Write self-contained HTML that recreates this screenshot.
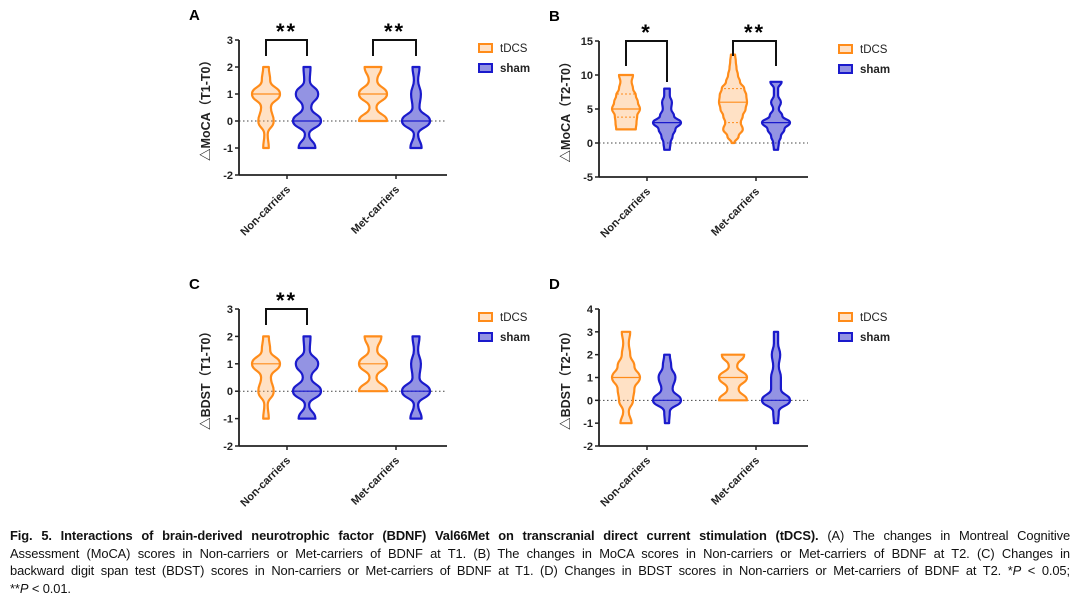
<!DOCTYPE html>
<html><head><meta charset="utf-8">
<style>
body{margin:0;background:#fff;width:1080px;height:596px;overflow:hidden;font-family:"Liberation Sans","Noto Sans CJK SC",sans-serif}
svg{position:absolute;left:0;top:0}
.cap{position:absolute;left:10px;width:1060px;font-size:12.9px;letter-spacing:-0.1px;color:#111;text-align:justify;text-align-last:justify;white-space:nowrap;line-height:15px}
.cap.last{text-align-last:left}
</style></head><body>
<svg id="fig" width="1080" height="525"></svg>
<div class="cap" style="top:528px"><b>Fig. 5. Interactions of brain-derived neurotrophic factor (BDNF) Val66Met on transcranial direct current stimulation (tDCS).</b> (A) The changes in Montreal Cognitive</div>
<div class="cap" style="top:545.5px">Assessment (MoCA) scores in Non-carriers or Met-carriers of BDNF at T1. (B) The changes in MoCA scores in Non-carriers or Met-carriers of BDNF at T2. (C) Changes in</div>
<div class="cap" style="top:563px">backward digit span test (BDST) scores in Non-carriers or Met-carriers of BDNF at T1. (D) Changes in BDST scores in Non-carriers or Met-carriers of BDNF at T2. *<i>P</i> &lt; 0.05;</div>
<div class="cap last" style="top:580.5px">**<i>P</i> &lt; 0.01.</div>
<script>
const categories=["Non-carriers","Met-carriers"];
const series=["tDCS","sham"];
// panel A
const aVals=[[-1,-0.5,0,0.5,1,1.5,2],[-1,-0.5,0,0.5,1,1.5,2],[0,0.5,1,1.5,2],[-1,-0.5,0,0.5,1,1.5,2]];
const aDens=[[0.2,0.12,0.55,0.35,1,0.3,0.2],[0.6,0.15,1,0.3,0.8,0.2,0.25],[1,0.25,1,0.3,0.6],[0.4,0.15,1,0.25,0.35,0.15,0.25]];
const aMed=[1,0,1,0];
const aTicks=[-2,-1,0,1,2,3];
// panel B
const bVals=[[2,3,4,5,6,7,8,9,10],[-1,0,1,2,3,4,5,6,7,8],[0,1,2,3,4,5,6,7,8,9,10,11,12,13],[-1,0,1,2,3,4,5,6,7,8,9]];
const bDens=[[0.7,0.75,0.8,1,0.85,0.7,0.5,0.4,0.5],[0.2,0.25,0.4,0.6,1,0.5,0.3,0.35,0.2,0.2],[0.1,0.4,0.7,0.55,0.7,0.9,1,0.95,0.8,0.5,0.35,0.25,0.2,0.15],[0.15,0.2,0.35,0.6,1,0.45,0.2,0.35,0.15,0.15,0.4]];
const bMed=[5,3,6,3];
const bQ=[[3.8,7.2],null,[3,8],null];
const bTicks=[-5,0,5,10,15];
// panel C
const cVals=aVals;
const cDens=[[0.2,0.12,0.55,0.35,1,0.3,0.2],[0.6,0.15,1,0.3,0.8,0.2,0.25],[1,0.25,1,0.3,0.6],[0.4,0.15,1,0.25,0.35,0.15,0.25]];
const cMed=[1,0,1,0];
// panel D
const dVals=[[-1,-0.5,0,0.5,1,1.5,2,2.5,3],[-1,-0.5,0,0.5,1,1.5,2],[0,0.5,1,1.5,2],[-1,-0.5,0,0.5,1,1.5,2,2.5,3]];
const dDens=[[0.4,0.2,0.5,0.6,1,0.6,0.3,0.2,0.3],[0.15,0.2,1,0.4,0.6,0.3,0.2],[1,0.4,1,0.3,0.8],[0.15,0.2,1,0.35,0.35,0.2,0.3,0.15,0.15]];
const dMed=[1,0,1,0];
const dTicks=[-2,-1,0,1,2,3,4];

const NS="http://www.w3.org/2000/svg";
const svg=document.getElementById('fig');
const ORANGE="#ff8c1a",BLUE="#1a1acc";
function el(t,a,p){const e=document.createElementNS(NS,t);for(const k in a)e.setAttribute(k,a[k]);(p||svg).appendChild(e);return e;}
function panel(P){
  const g=el('g',{});
  
  
  const min=P.ticks[0],max=P.ticks[P.ticks.length-1];
  const y=v=>P.yBot-(v-min)/(max-min)*(P.yBot-P.yTop);
  const xs=[P.ax+27,P.ax+68,P.ax+134,P.ax+177];
  const t=el('text',{x:P.ax-50,y:P.yTop-20,'font-size':15,'font-weight':'bold'},g);t.textContent=P.letter;
  
  const z=el('line',{x1:P.ax,x2:P.xEnd,y1:y(0),y2:y(0),stroke:'#444','stroke-width':1,'stroke-dasharray':'1.5,2.5'},g);
  
  for(let i=0;i<4;i++){
    const vals=P.vals[i],dens=P.dens[i],col=i%2?BLUE:ORANGE,fill=i%2?'rgba(40,40,200,0.5)':'rgba(255,170,90,0.35)';
    const cx=xs[i],W=14;
    const R=vals.map((v,k)=>[cx+dens[k]*W,y(v)]),L=vals.map((v,k)=>[cx-dens[k]*W,y(v)]).reverse();
    const pts=R.concat(L);
    let d=`M${pts[0][0]},${pts[0][1]}`;
    for(let k=1;k<pts.length;k++){
      const p0=pts[k-1],p1=pts[k];
      if(k===R.length){d+=` L${p1[0]},${p1[1]}`;continue;}
      const my=(p0[1]+p1[1])/2;
      d+=` C${p0[0]},${my} ${p1[0]},${my} ${p1[0]},${p1[1]}`;
    }
    d+='Z';
    const v=el('path',{d,fill,stroke:col,'stroke-width':2.2,'stroke-linejoin':'round'},g);
    
    
    const mv=P.med[i];let k=0;while(k<vals.length-1&&vals[k+1]<=mv)k++;
    let w=dens[k];if(k<vals.length-1&&vals[k]!==mv){const f=(mv-vals[k])/(vals[k+1]-vals[k]);w=dens[k]+(dens[k+1]-dens[k])*f;}
    const m=el('line',{x1:cx-w*W,x2:cx+w*W,y1:y(mv),y2:y(mv),stroke:col,'stroke-width':1.2},g);
    
    if(P.q&&P.q[i])P.q[i].forEach(q=>{const l=el('line',{x1:cx-9,x2:cx+9,y1:y(q),y2:y(q),stroke:col,'stroke-width':1,'stroke-dasharray':'2,2'},g);
      });
  }
  const ya=el('line',{x1:P.ax,x2:P.ax,y1:P.yTop,y2:P.yBot,stroke:'#222','stroke-width':1.8},g);
  
  const xa=el('line',{x1:P.ax,x2:P.xEnd,y1:P.yBot,y2:P.yBot,stroke:'#222','stroke-width':1.8},g);
  
  P.ticks.forEach(tv=>{
    el('line',{x1:P.ax-4,x2:P.ax,y1:y(tv),y2:y(tv),stroke:'#222','stroke-width':1.5},g);
    const tt=el('text',{x:P.ax-6,y:y(tv)+4,'font-size':11,'font-weight':'bold','text-anchor':'end',fill:'#222'},g);
    tt.textContent=tv;
    
  });
  [P.ax+48,P.ax+157].forEach((cx,j)=>{
    el('line',{x1:cx,x2:cx,y1:P.yBot,y2:P.yBot+4,stroke:'#222','stroke-width':1.5},g);
    const tt=el('text',{x:cx+4,y:P.yBot+15,'font-size':11,'font-weight':'bold','text-anchor':'end',fill:'#222',transform:`rotate(-45 ${cx+4} ${P.yBot+15})`},g);
    tt.textContent=categories[j];
    
  });
  const yl=el('text',{x:0,y:0,'font-size':12.5,'font-weight':'bold','text-anchor':'middle',fill:'#222',transform:`translate(${P.ax-29},${(P.yTop+P.yBot)/2}) rotate(-90)`},g);
  yl.textContent=P.ylab;
  series.forEach((s,j)=>{
    const ly=P.yTop+8+j*20;
    const r=el('rect',{x:P.ax+240,y:ly-4,width:13,height:8,fill:j?'rgba(40,40,200,0.5)':'rgba(255,170,90,0.35)',stroke:j?BLUE:ORANGE,'stroke-width':2},g);
    
    const lt=el('text',{x:P.ax+261,y:ly+4,'font-size':11.5,'font-weight':j?'bold':'normal',fill:'#222'},g);
    lt.textContent=s;
  });
  (P.sig||[]).forEach(sg=>{
    const x1=xs[sg.g*2],x2=xs[sg.g*2+1];
    const b=el('path',{d:`M${x1},${sg.l} V${P.yTop} H${x2} V${sg.r}`,fill:'none',stroke:'#111','stroke-width':2},g);
    
    const st=el('text',{x:(x1+x2)/2,y:P.yTop-1,'font-size':22,'font-weight':'bold','text-anchor':'middle','letter-spacing':'2'},g);
    st.textContent=sg.s;
  });
}
panel({letter:'A',ax:239,xEnd:447,yTop:40,yBot:175,ticks:aTicks,vals:aVals,dens:aDens,med:aMed,ylab:'△MoCA（T1-T0）',sig:[{g:0,s:'**',l:56,r:56},{g:1,s:'**',l:56,r:56}]});
panel({letter:'B',ax:599,xEnd:808,yTop:41,yBot:177,ticks:bTicks,vals:bVals,dens:bDens,med:bMed,q:bQ,ylab:'△MoCA（T2-T0）',sig:[{g:0,s:'*',l:66,r:82},{g:1,s:'**',l:56,r:66}]});
panel({letter:'C',ax:239,xEnd:447,yTop:309,yBot:446,ticks:aTicks,vals:cVals,dens:cDens,med:cMed,ylab:'△BDST（T1-T0）',sig:[{g:0,s:'**',l:325,r:325}]});
panel({letter:'D',ax:599,xEnd:808,yTop:309,yBot:446,ticks:dTicks,vals:dVals,dens:dDens,med:dMed,ylab:'△BDST（T2-T0）'});
</script>
</body></html>
